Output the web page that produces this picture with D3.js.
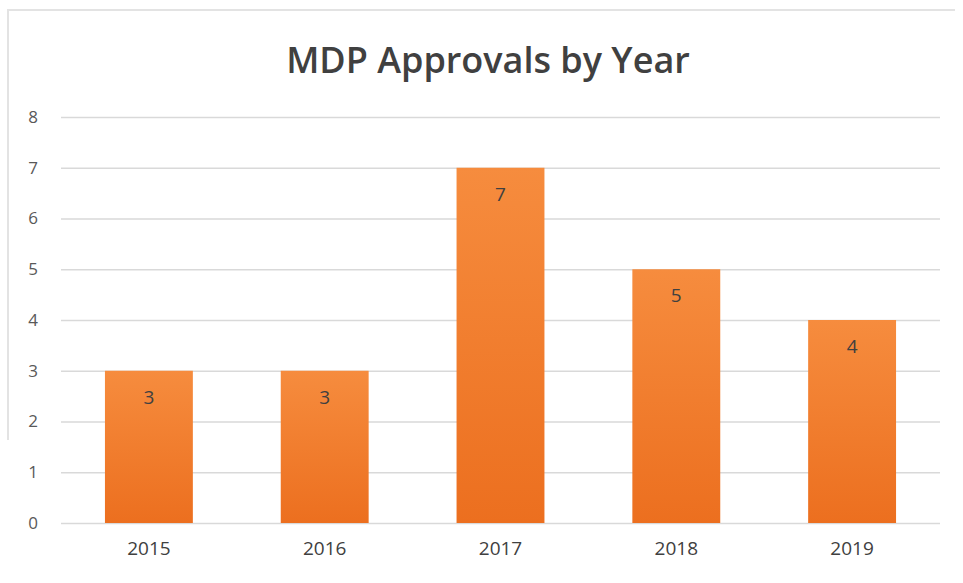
<!DOCTYPE html>
<html>
<head>
<meta charset="utf-8">
<script src="https://cdn.jsdelivr.net/npm/d3@7"></script>
<style>
  body { margin: 0; background: #fff; }
  svg { display: block; }
</style>
</head>
<body>
<div id="chart"></div>
<script>
// chart data
const years = ["2015", "2016", "2017", "2018", "2019"];
const approvals = [3, 3, 7, 5, 4];
const yTicks = [0, 1, 2, 3, 4, 5, 6, 7, 8];

const width = 963, height = 583;
const margin = {top: 117, right: 23, bottom: 60, left: 61};
const w = width - margin.left - margin.right;
const h = height - margin.top - margin.bottom;

const svg = d3.select('#chart')
    .append('svg')
    .attr('width', width)
    .attr('height', height)
    .style('font-family', '"Open Sans", Lato, Arial, sans-serif');

// faint chart frame
svg.append('path')
    .attr('d', `M8,440 V10 H${width - 8}`)
    .attr('fill', 'none')
    .attr('stroke', '#e3e3e3')
    .attr('stroke-width', 2);

const defs = svg.append('defs');
const grad = defs.append('linearGradient')
    .attr('id', 'barGrad')
    .attr('x1', 0).attr('y1', 0).attr('x2', 0).attr('y2', 1);
grad.append('stop').attr('offset', '0%').attr('stop-color', '#f68c3e');
grad.append('stop').attr('offset', '100%').attr('stop-color', '#ec6f1f');

// title
svg.append('text')
    .attr('x', 488)
    .attr('y', 73)
    .attr('text-anchor', 'middle')
    .attr('font-size', 36)
    .attr('font-weight', 600)
    .attr('fill', '#404040')
    .text('MDP Approvals by Year');

const g = svg.append('g').attr('transform', `translate(${margin.left},${margin.top})`);

const x = d3.scaleBand()
    .domain(years)
    .range([0, w])
    .paddingInner(0.5)
    .paddingOuter(0.25);

const y = d3.scaleLinear()
    .domain([0, 8])
    .range([h, 0]);

// gridlines
g.append('g')
    .call(d3.axisLeft(y).tickValues(yTicks).tickSize(-w).tickFormat(''))
    .call(s => s.select('.domain').remove())
    .selectAll('line')
    .attr('stroke', '#d9d9d9')
    .attr('stroke-width', 1.5);

// y labels
g.append('g')
    .call(d3.axisLeft(y).tickValues(yTicks).tickSize(0).tickPadding(23))
    .call(s => s.select('.domain').remove())
    .selectAll('text')
    .attr('font-size', 17)
    .attr('fill', '#595959')
    .style('font-family', '"Open Sans", Lato, Arial, sans-serif');

// x labels
g.append('g')
    .attr('transform', `translate(0,${h})`)
    .call(d3.axisBottom(x).tickSize(0).tickPadding(19))
    .call(s => s.select('.domain').remove())
    .selectAll('text')
    .attr('font-size', 19)
    .attr('fill', '#404040')
    .style('font-family', '"Open Sans", Lato, Arial, sans-serif');

// bars
g.selectAll('rect.bar')
    .data(approvals)
    .enter()
    .append('rect')
    .attr('class', 'bar')
    .attr('x', (d, i) => x(years[i]))
    .attr('y', d => y(d))
    .attr('width', x.bandwidth())
    .attr('height', d => h - y(d))
    .attr('fill', 'url(#barGrad)');

// value labels
g.selectAll('text.val')
    .data(approvals)
    .enter()
    .append('text')
    .attr('class', 'val')
    .attr('x', (d, i) => x(years[i]) + x.bandwidth() / 2)
    .attr('y', d => y(d) + 33)
    .attr('text-anchor', 'middle')
    .attr('font-size', 19)
    .attr('fill', '#404040')
    .text(d => d);
</script>
</body>
</html>
